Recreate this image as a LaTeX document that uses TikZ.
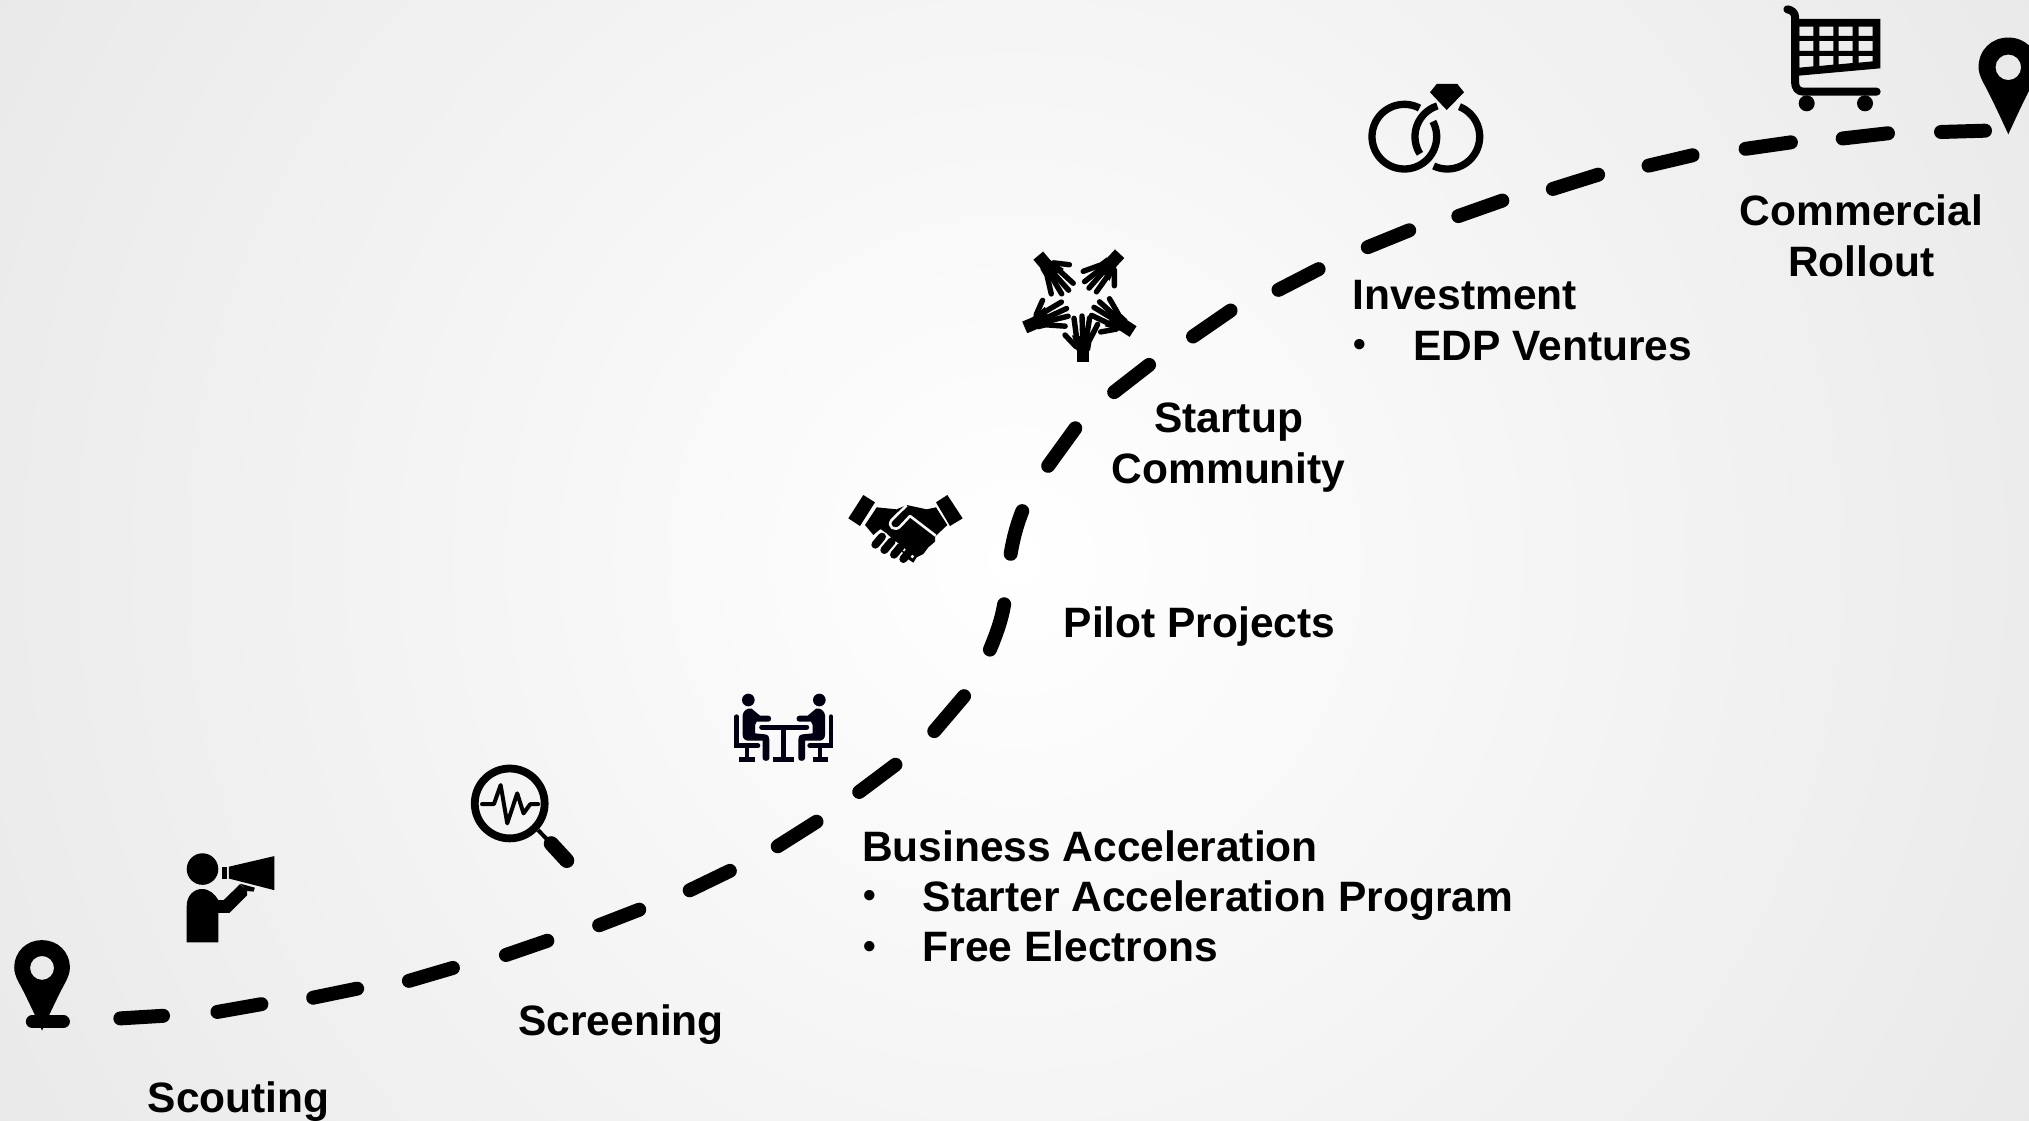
\documentclass[tikz,border=0pt]{standalone}
\usepackage{fontspec}
\setmainfont{Liberation Sans}
\begin{document}
\begin{tikzpicture}[x=1.29401pt,y=-1.29401pt,
  lbl/.style={font=\fontsize{42.5}{50}\selectfont\bfseries,text=black,inner sep=0pt,anchor=mid},
  lblw/.style={lbl,anchor=mid west},
  bul/.style={font=\fontsize{36}{36}\selectfont\bfseries,text=black,inner sep=0pt,anchor=center},
  dashseg/.style={line width=14pt,line cap=round,black},
  zoomat/.style 2 args={x=0.33333pt,y=-0.33333pt,shift={(#1pt,-#2pt)}},
  pinicon/.pic={\fill[black,even odd rule] (0,2.25) .. controls (-.3,1.6) and (-.6,.95) .. (-.85,.5) .. controls (-.95,.3) and (-1,.15) .. (-1,0) .. controls (-1,-.6) and (-.55,-1) .. (0,-1) .. controls (.55,-1) and (1,-.6) .. (1,0) .. controls (1,.15) and (.95,.3) .. (.85,.5) .. controls (.6,.95) and (.3,1.6) .. (0,2.25) -- cycle (0,0) circle[radius=.43];}
]
\useasboundingbox (0,0) rectangle (1568,866);
\begin{scope}
\clip (0,0) rectangle (1568,866);
\shade[inner color=white,outer color=black!9] (784,433) circle[radius=950];
\end{scope}
% road
\foreach \a/\b/\c/\d in {93/787/126/785,168/782/202/776,242/771/276/764,316/758/350/748,391/738/423/727,463/715/494/703,533/688/564/673,601/654/631/635,664/612/692/591,722/565/745/538,810/360/831/331,861/303/888/282,922/260/951/240,988/224/1019/208,1057/191/1089/178,1127/167/1161/155,1200/146/1235/135,1274/128/1308/120,1349/115/1384/110,1424/107/1459/103,1500/102/1534/101}
  \draw[dashseg] (\a,\b) -- (\c,\d);
\draw[dashseg] (765,502) .. controls (770,490) and (774,479) .. (776,467);
\draw[dashseg] (781,428) .. controls (783,416) and (786,405) .. (790,395);
% left pin
\pic[scale=21.5] at (32.5,748) {pinicon};
\draw[black,line width=13pt,line cap=round] (25,789.5) -- (49,789.5);
% right pin
\pic[scale=23] at (1552,52) {pinicon};
% megaphone person
\fill[black] (156.5,671.6) circle[radius=12.2];
\fill[black] (144.3,728.3) -- (144.3,700) .. controls (144.3,692) and (150,687) .. (156,687) .. controls (162,687) and (166,691) .. (168.8,695.6) -- (172.8,695.6) -- (185.6,683.2) -- (191,689.2) -- (191,691.8) -- (177.4,705.4) -- (168.8,705.4) -- (168.8,728.3) -- cycle;
\fill[black] (176.8,669.8) -- (212,661.6) -- (212,687.9) -- (176.8,678.9) -- cycle;
\fill[black] (171.9,670.3) rectangle (175.2,678.9);
\fill[black] (186,683) -- (197,686) -- (196,689) -- (190,688.5) -- cycle;
% magnifier
\draw[black,line width=7.8pt] (393.9,620.9) circle[radius=27];
\draw[black,line width=4pt] (415.9,641.5) -- (424,650);
\draw[black,line width=15pt,line cap=round] (426,652) -- (438,665);
\draw[black,line width=4pt,line join=round,line cap=round] (372.5,621.4) -- (381.7,621.4) -- (386.9,606.7) -- (392,636.3) -- (399.7,613.1) -- (404.6,628.6) -- (409.8,621.4) -- (415.9,621.4);
% meeting
\newcommand{\meetperson}{%
 \fill (145,690) circle[radius=19];
 \fill (128,735) .. controls (130,722) and (142,713) .. (155,716) -- (180,737) -- (205,737) .. controls (216,737) and (216,755) .. (205,755) -- (170,755) -- (165,765) -- (165,790) -- (195,793) .. controls (205,795) and (208,800) .. (208,808) -- (208,865) .. controls (208,875) and (188,875) .. (188,865) -- (188,812) -- (145,812) .. controls (135,812) and (128,805) .. (128,795) -- cycle;
 \draw[line width=4.6pt,line cap=round] (110,740) -- (110,827) -- (174,827);
 \draw[line width=4pt] (142,830) -- (142,862);
 \draw[line width=5pt] (118,867) -- (165,867);
}
\begin{scope}[zoomat={700}{470},fill=black!93!blue,draw=black!93!blue]
\meetperson
\begin{scope}[shift={(503,0)},xscale=-1]\meetperson\end{scope}
\draw[line width=5pt,line cap=round] (185,771) -- (320,771);
\draw[line width=4.6pt] (250,771) -- (250,862);
\draw[line width=5pt] (220,867) -- (283,867);
\end{scope}
% handshake
\begin{scope}[zoomat={700}{470}]
\fill[black] (490,75) -- (525,97) -- (480,168) -- (445,145) -- cycle;
\fill[black] (742,75) -- (788,145) -- (750,168) -- (708,97) -- cycle;
\fill[black] (530,112) -- (590,118) -- (620,105) -- (680,118) -- (708,112) -- (742,165) -- (705,200) -- (705,215) -- (685,232) -- (670,252) -- (650,262) -- (640,278) -- (625,268) -- (560,190) -- (540,178) -- (520,195) -- (495,165) -- cycle;
\draw[white!97!black,line width=2.6pt,line join=round] (620,106) -- (575,150) .. controls (560,170) and (585,185) .. (600,170) -- (630,138) -- (707,197);
\draw[white!97!black,line width=2.6pt] (540,181) -- (640,262);
\draw[black,line width=8pt,line cap=round] (526,224) -- (546,200);
\draw[black,line width=8pt,line cap=round] (553,240) -- (575,214);
\draw[black,line width=8pt,line cap=round] (582,254) -- (602,230);
\draw[black,line width=8pt,line cap=round] (610,267) -- (628,245);
\end{scope}
% hands
\begin{scope}[zoomat={1000}{230},shift={(240,212)}]
\foreach \r in {0,57,137,220,293}{
\begin{scope}[rotate=\r]
\fill[black] (-10,146) rectangle (28,184);
\fill[black] (-24,104) -- (37,110) -- (30,150) -- (-10,150) -- cycle;
\draw[black,line width=5.4pt,line cap=round] (-45,103) -- (-12,138);
\draw[black,line width=5.4pt,line cap=round] (-18,53) -- (-10,113);
\draw[black,line width=5.4pt,line cap=round] (6,46) -- (8,113);
\draw[black,line width=5.4pt,line cap=round] (29,51) -- (19,113);
\draw[black,line width=5.4pt,line cap=round] (53,71) -- (29,118);
\end{scope}}
\end{scope}
% rings
\begin{scope}[zoomat={1340}{60}]
\draw[black,line width=7.3pt] plot[domain=62:388,samples=80] ({193+97*cos(\x)},{230-97*sin(\x)});
\draw[black,line width=7.3pt] plot[domain=108:212,samples=40] ({322+97*cos(\x)},{230-97*sin(\x)});
\draw[black,line width=7.3pt] plot[domain=245:428,samples=60] ({322+97*cos(\x)},{230-97*sin(\x)});
\fill[black] (270,97) -- (290,72) -- (352,72) -- (372,97) -- (320,150) -- cycle;
\end{scope}
% cart
\begin{scope}[zoomat={1760}{0}]
\draw[black,line width=8pt,line cap=round,line join=round] (82,28) .. controls (95,30) and (105,38) .. (105,50) -- (105,245) .. controls (105,265) and (115,275) .. (130,275) -- (350,275);
\fill[black,even odd rule] (105,57) -- (361,57) -- (361,205) -- (105,228) -- cycle
 (118,80) rectangle (160,108) (178,80) rectangle (220,108) (236,80) rectangle (278,108) (296,80) rectangle (338,108)
 (118,123) rectangle (160,153) (178,123) rectangle (220,153) (236,123) rectangle (278,153) (296,123) rectangle (338,153)
 (118,168) -- (160,168) -- (160,199) -- (118,203) -- cycle
 (178,168) -- (220,168) -- (220,194) -- (178,198) -- cycle
 (236,168) -- (278,168) -- (278,189) -- (236,193) -- cycle
 (296,168) -- (338,168) -- (338,184) -- (296,188) -- cycle;
\fill[black] (140,310) circle[radius=24];
\fill[black] (315,310) circle[radius=24];
\end{scope}
% labels
\node[lbl] (scouting) at (184.5,858) {Scouting};
\node[lbl] (screening) at (480,798) {Screening};
\node[lblw] (biz) at (666,663.5) {Business Acceleration};
\node[bul] (bula) at (672,695) {•};
\node[lblw] (starter) at (713,702) {Starter Acceleration Program};
\node[bul] (bulb) at (672,734) {•};
\node[lblw] (free) at (713,741) {Free Electrons};
\node[lbl] (pilot) at (927,490.5) {Pilot Projects};
\node[lbl] (startup) at (949.5,332.5) {Startup};
\node[lbl] (community) at (949.5,371.5) {Community};
\node[lblw] (invest) at (1045,237.5) {Investment};
\node[bul] (bulc) at (1051,269) {•};
\node[lblw] (edp) at (1092,276.5) {EDP Ventures};
\node[lbl] (commercial) at (1438.5,172.5) {Commercial};
\node[lbl] (rollout) at (1438.5,211.5) {Rollout};
\end{tikzpicture}
\end{document}
